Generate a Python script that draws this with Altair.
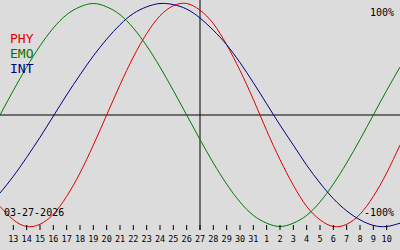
import altair as alt
import pandas as pd

# day index (0 = Mar 12) and values
t_vals = list(range(31))
phy = [-0.82, -0.94, -1.00, -0.98, -0.89, -0.73, -0.52, -0.27, 0.00, 0.27, 0.52,
       0.73, 0.89, 0.98, 1.00, 0.94, 0.82, 0.63, 0.40, 0.14, -0.14, -0.40, -0.63,
       -0.82, -0.94, -1.00, -0.98, -0.89, -0.73, -0.52, -0.27]
emo = [0.00, 0.22, 0.43, 0.62, 0.78, 0.90, 0.97, 1.00, 0.97, 0.90, 0.78, 0.62,
       0.43, 0.22, 0.00, -0.22, -0.43, -0.62, -0.78, -0.90, -0.97, -1.00, -0.97,
       -0.90, -0.78, -0.62, -0.43, -0.22, 0.00, 0.22, 0.43]
intel = [-0.70, -0.55, -0.38, -0.20, -0.01, 0.18, 0.36, 0.53, 0.68, 0.81, 0.91,
         0.97, 1.00, 0.99, 0.95, 0.87, 0.76, 0.63, 0.47, 0.29, 0.10, -0.09, -0.27,
         -0.45, -0.61, -0.75, -0.86, -0.94, -0.99, -1.00, -0.97]

series_names = ["PHY", "EMO", "INT"]
series_colors = ["#e00000", "#007800", "#000080"]

tick_pos = list(range(1, 30))
tick_labels = [str(d) for d in range(13, 32)] + [str(d) for d in range(1, 11)]

today_pos = 15
date_text = "03-27-2026"

rows = []
for name, vals in zip(series_names, [phy, emo, intel]):
    for t, v in zip(t_vals, vals):
        rows.append({"t": t, "v": v, "s": name})
df = pd.DataFrame(rows)

ticks_df = pd.DataFrame({"t": tick_pos, "lab": tick_labels})
legend_df = pd.DataFrame({"s": series_names, "i": [0, 1, 2]})

xs = alt.Scale(domain=[0, 30], range=[0, 400])
ys = alt.Scale(domain=[-1, 1], range=[226.5, 3.5])
cs = alt.Scale(domain=series_names, range=series_colors)
FONT = "DejaVu Sans Mono"

lines = alt.Chart(df).mark_line(strokeWidth=1, interpolate="natural").encode(
    x=alt.X("t:Q", scale=xs, axis=None),
    y=alt.Y("v:Q", scale=ys, axis=None),
    color=alt.Color("s:N", scale=cs, legend=None),
)

zero = alt.Chart(pd.DataFrame({"v": [0]})).mark_rule(color="black", strokeWidth=1).encode(
    y=alt.Y("v:Q", scale=ys, axis=None),
    x=alt.value(0), x2=alt.value(400),
)

today = alt.Chart(pd.DataFrame({"t": [today_pos]})).mark_rule(color="black", strokeWidth=1).encode(
    x=alt.X("t:Q", scale=xs, axis=None),
    y=alt.value(0), y2=alt.value(230),
)

tick_marks = alt.Chart(ticks_df).mark_rule(color="black", strokeWidth=1).encode(
    x=alt.X("t:Q", scale=xs, axis=None),
    y=alt.value(225), y2=alt.value(230),
)

tick_text = alt.Chart(ticks_df).mark_text(font=FONT, fontSize=8.5, color="black",
                                          align="center", baseline="alphabetic").encode(
    x=alt.X("t:Q", scale=xs, axis=None),
    y=alt.value(242),
    text="lab:N",
)

legend = alt.Chart(legend_df).mark_text(font=FONT, fontSize=13, align="left",
                                        baseline="alphabetic").encode(
    x=alt.value(10),
    y=alt.Y("i:Q", scale=alt.Scale(domain=[0, 2], range=[43, 73]), axis=None),
    text="s:N",
    color=alt.Color("s:N", scale=cs, legend=None),
)

top_lab = alt.Chart(pd.DataFrame({"l": ["100%"]})).mark_text(
    font=FONT, fontSize=10, align="right", baseline="alphabetic", color="black"
).encode(x=alt.value(394), y=alt.value(16), text="l:N")

bot_lab = alt.Chart(pd.DataFrame({"l": ["-100%"]})).mark_text(
    font=FONT, fontSize=10, align="right", baseline="alphabetic", color="black"
).encode(x=alt.value(394), y=alt.value(216), text="l:N")

date_lab = alt.Chart(pd.DataFrame({"l": [date_text]})).mark_text(
    font=FONT, fontSize=10, align="left", baseline="alphabetic", color="black"
).encode(x=alt.value(4), y=alt.value(216), text="l:N")

chart = alt.layer(
    zero, today, lines, tick_marks, tick_text, legend, top_lab, bot_lab, date_lab
).resolve_scale(y="independent").properties(
    width=400, height=250, padding=0, autosize=alt.AutoSizeParams(type="none"),
    background="#dcdcdc",
).configure_view(stroke=None)

chart.save("out.html", embed_options={"renderer": "svg", "actions": False})
